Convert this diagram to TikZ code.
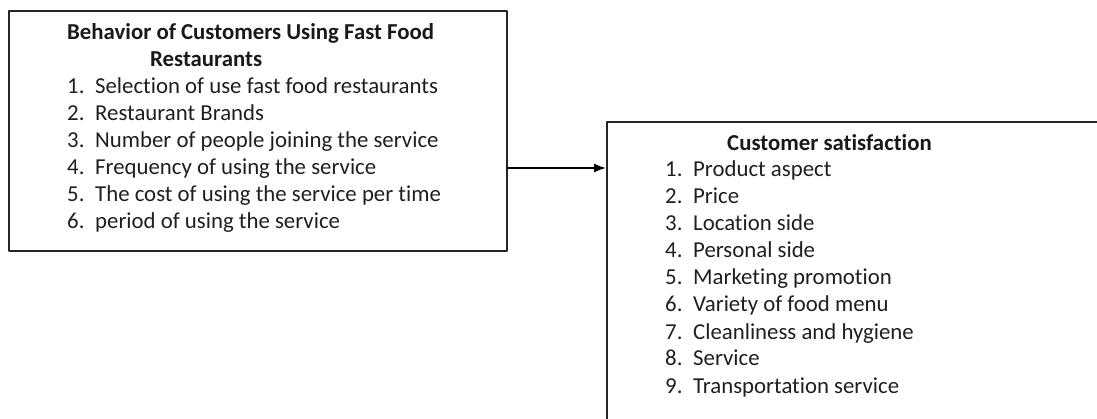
\documentclass[tikz,border=0pt]{standalone}
\usepackage{fontspec}
\setmainfont{Carlito}[Ligatures=NoCommon]
\usetikzlibrary{arrows.meta}
\tikzset{
  framebox/.style={draw=black!85,line width=1.6pt,anchor=north west,inner sep=0pt},
  headtext/.style={font=\fontsize{22.8}{27}\selectfont\bfseries,text=black!90,inner sep=0pt,anchor=base west},
  itemtext/.style={font=\fontsize{22.8}{27}\selectfont,text=black!88,inner sep=0pt,anchor=base west},
  link/.style={line width=1.6pt,-{Latex[length=12pt,width=9pt]}},
  every picture/.style={line cap=round,line join=round}
}
% numbered entry: number in a fixed 28pt slot, then the text
\newcommand{\numitem}[2]{\makebox[28pt][l]{#1.}#2}

\begin{document}
\begin{tikzpicture}[x=1pt,y=-1pt]
  \useasboundingbox (0,0) rectangle (1097,419);
  \clip (0,0) rectangle (1097,419);

  % left box: behaviour of customers
  \node[framebox,minimum width=498pt,minimum height=240pt] (behav) at (8,10) {};
  \node[headtext] (btitle) at (67,40) {Behavior of Customers Using Fast Food};
  \node[headtext] (btitlea) at (150,67) {Restaurants};
  \node[itemtext] (b1) at (67,94) {\numitem{1}{Selection of use fast food restaurants}};
  \node[itemtext] (b2) at (67,121) {\numitem{2}{Restaurant Brands}};
  \node[itemtext] (b3) at (67,148) {\numitem{3}{Number of people joining the service}};
  \node[itemtext] (b4) at (67,175) {\numitem{4}{Frequency of using the service}};
  \node[itemtext] (b5) at (67,202) {\numitem{5}{The cost of using the service per time}};
  \node[itemtext] (b6) at (67,229) {\numitem{6}{period of using the service}};

  % right box: customer satisfaction (runs off the page)
  \node[framebox,minimum width=520pt,minimum height=330pt] (satis) at (606,121) {};
  \node[headtext] (stitle) at (727,151) {Customer satisfaction};
  \node[itemtext] (s1) at (665,177) {\numitem{1}{Product aspect}};
  \node[itemtext] (s2) at (665,204) {\numitem{2}{Price}};
  \node[itemtext] (s3) at (665,231) {\numitem{3}{Location side}};
  \node[itemtext] (s4) at (665,258) {\numitem{4}{Personal side}};
  \node[itemtext] (s5) at (665,285) {\numitem{5}{Marketing promotion}};
  \node[itemtext] (s6) at (665,312) {\numitem{6}{Variety of food menu}};
  \node[itemtext] (s7) at (665,339) {\numitem{7}{Cleanliness and hygiene}};
  \node[itemtext] (s8) at (665,366) {\numitem{8}{Service}};
  \node[itemtext] (s9) at (665,393) {\numitem{9}{Transportation service}};

  % connector
  \coordinate (linkrow) at (0,168);
  \draw[link] (behav.east |- linkrow) -- (satis.west |- linkrow);
\end{tikzpicture}
\end{document}
